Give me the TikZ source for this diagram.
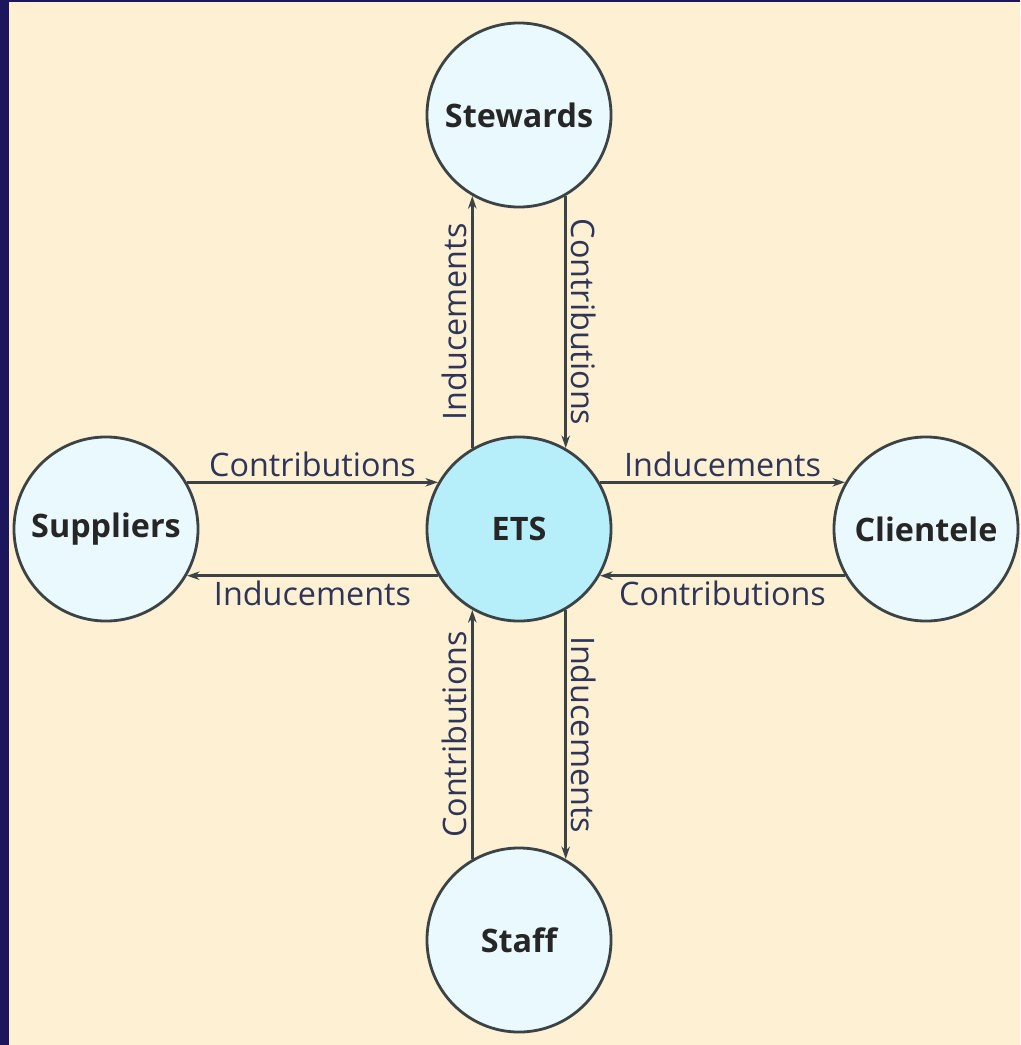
\documentclass[tikz,border=0pt]{standalone}
\usepackage{fontspec}
\setmainfont{Open Sans}
\usetikzlibrary{arrows.meta}
\definecolor{cream}{HTML}{FEF0D3}
\definecolor{slide}{HTML}{1C175C}
\definecolor{pale}{HTML}{EAF9FD}
\definecolor{core}{HTML}{B6EEF9}
\definecolor{rim}{HTML}{3B4347}
\definecolor{ink}{HTML}{2E3558}
\begin{document}
\begin{tikzpicture}[x=0.025cm,y=-0.025cm,>={Stealth[length=9pt,width=6pt]},line width=1.8pt]
  \tikzstyle{party}=[circle, draw=rim, line width=2pt, fill=pale, minimum size=4.6cm,
    inner sep=0pt, font=\fontsize{23}{26}\selectfont\bfseries, text=black!85]
  \tikzstyle{flow}=[->, draw=rim]
  \tikzstyle{lbl}=[font=\fontsize{23}{26}\selectfont, text=ink, inner sep=3pt]

  % page
  \fill[cream] (0,0) rectangle (1020,1045);
  \fill[slide] (0,0) rectangle (9,1045);
  \fill[slide] (0,0) rectangle (1020,2);

  \node[party, fill=core] (ets) at (519,529) {ETS};
  \node[party] (stewards) at (519,115) {Stewards};
  \node[party] (suppliers) at (106,529) {Suppliers};
  \node[party] (clientele) at (926,529) {Clientele};
  \node[party] (staff) at (519,940) {Staff};

  \draw[flow] (ets.120) -- node[lbl, sloped, above] {Inducements} (stewards.240);
  \draw[flow] (stewards.300) -- node[lbl, sloped, above] {Contributions} (ets.60);
  \draw[flow] (suppliers.30) -- node[lbl, above] {Contributions} (ets.150);
  \draw[flow] (ets.210) -- node[lbl, below] {Inducements} (suppliers.330);
  \draw[flow] (ets.30) -- node[lbl, above] {Inducements} (clientele.150);
  \draw[flow] (clientele.210) -- node[lbl, below] {Contributions} (ets.330);
  \draw[flow] (staff.120) -- node[lbl, sloped, above] {Contributions} (ets.240);
  \draw[flow] (ets.300) -- node[lbl, sloped, above] {Inducements} (staff.60);
\end{tikzpicture}
\end{document}
